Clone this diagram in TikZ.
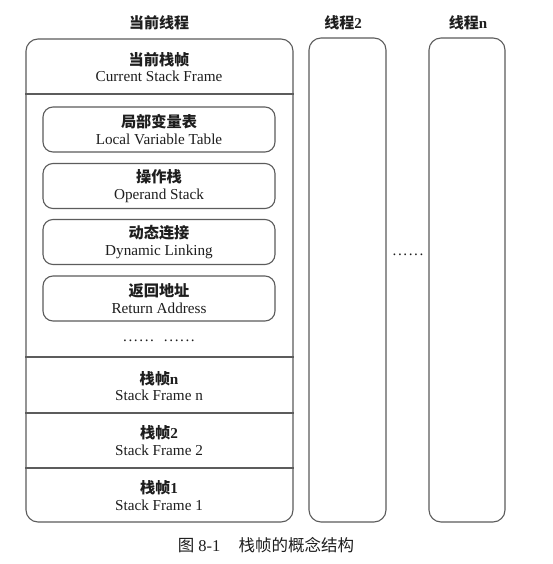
\documentclass[tikz,border=0pt]{standalone}
\usepackage{fontspec}
\setmainfont{Liberation Serif}
\newfontfamily\cjk{Noto Sans CJK SC}
\definecolor{ln}{HTML}{5C5C5C}
\definecolor{tx}{HTML}{1E1E1E}
\newcommand\mysixdots{.\hspace{1.6pt}.\hspace{1.6pt}.\hspace{1.6pt}.\hspace{1.6pt}.\hspace{1.6pt}.}
\begin{document}
\begin{tikzpicture}[x=1pt,y=-1pt,
  outerbox/.style={draw=ln, line width=1.1pt, rounded corners=12pt, inner sep=0pt},
  innerbox/.style={draw=ln, line width=1.1pt, rounded corners=10pt, inner sep=0pt,
    minimum width=232pt, minimum height=45pt, text=tx, align=center,
    font=\fontsize{15.2}{16.8}\selectfont},
  lbl/.style={text=tx, align=center, inner sep=0pt, font=\fontsize{15.2}{16.8}\selectfont},
  head/.style={text=tx, inner sep=0pt, font=\fontsize{15}{17}\selectfont},
  divider/.style={draw=ln, line width=1.1pt}
]
\useasboundingbox[fill=white] (0,0) rectangle (552,564);

% headers
\node[head] (h1) at (159,23) {\cjk\bfseries 当前线程};
\node[head] (h2) at (343,23) {{\cjk\bfseries 线程}\textbf{2}};
\node[head] (h3) at (468,23) {{\cjk\bfseries 线程}\textbf{n}};

% outer boxes
\node[outerbox, minimum width=267pt, minimum height=483pt] (main) at (159.5,280.5) {};
\node[outerbox, minimum width=77pt, minimum height=484pt] (t2) at (347.5,280) {};
\node[outerbox, minimum width=76pt, minimum height=484pt] (tn) at (467,280) {};

% dividers
\coordinate (d1) at (0,94);
\coordinate (d2) at (0,357);
\coordinate (d3) at (0,413);
\coordinate (d4) at (0,468);
\foreach \d in {d1,d2,d3,d4}
  \draw[divider] (main.west |- \d) -- (main.east |- \d);

% current frame
\node[lbl] (cur) at (159,67) {{\cjk\bfseries 当前栈帧}\\Current Stack Frame};

% inner boxes
\node[innerbox] (lvt) at (159,129.5) {{\cjk\bfseries 局部变量表}\\Local Variable Table};
\node[innerbox] (ops) at (159,186) {{\cjk\bfseries 操作栈}\\Operand Stack};
\node[innerbox] (dyn) at (159,242) {{\cjk\bfseries 动态连接}\\Dynamic Linking};
\node[innerbox] (ret) at (159,298.5) {{\cjk\bfseries 返回地址}\\Return Address};

\node[lbl, anchor=base] (dots1) at (159,341) {\mysixdots\hspace{10pt}\mysixdots};

% stack frames
\node[lbl] (sfn) at (159,386) {{\cjk\bfseries 栈帧}\textbf{n}\\Stack Frame n};
\node[lbl] (sf2) at (159,440.5) {{\cjk\bfseries 栈帧}\textbf{2}\\Stack Frame 2};
\node[lbl] (sf1) at (159,495.5) {{\cjk\bfseries 栈帧}\textbf{1}\\Stack Frame 1};

% dots between threads
\node[lbl, anchor=base] (dots2) at (408,255) {\mysixdots};

% caption
\node[text=tx, inner sep=0pt, font=\fontsize{16.5}{19}\selectfont] (cap) at (266,545)
  {{\cjk 图} 8-1\hspace{1.1em}{\cjk 栈帧的概念结构}};
\end{tikzpicture}
\end{document}
